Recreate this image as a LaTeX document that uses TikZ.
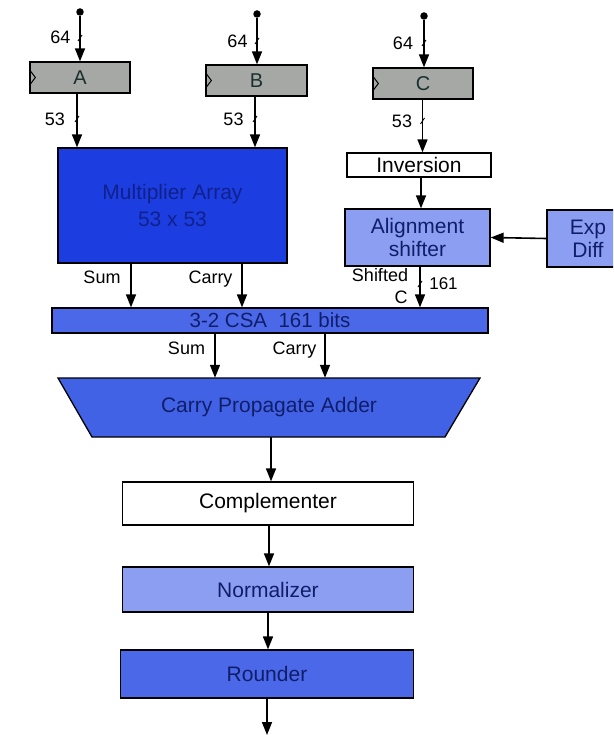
\documentclass[tikz,border=0pt]{standalone}
\usepackage{fontspec}
\setmainfont{Liberation Sans}
\usetikzlibrary{arrows.meta}
\definecolor{reggray}{HTML}{A6A8A6}
\definecolor{regtext}{HTML}{1A3030}
\definecolor{multblue}{HTML}{1C3EE0}
\definecolor{multtext}{HTML}{10208C}
\definecolor{midblue}{HTML}{4A68E8}
\definecolor{cpablue}{HTML}{4262E6}
\definecolor{lightblue}{HTML}{8C9EF2}
\definecolor{navytext}{HTML}{101E6A}
\begin{document}
\begin{tikzpicture}[x=1pt,y=-1pt,
  arr/.style={draw=black, line width=1.6pt, -{Triangle[length=13pt,width=10pt]}},
  box/.style={draw=black, line width=1.3pt, inner sep=0pt, align=center,
              font=\fontsize{21}{23}\selectfont},
  reg/.style={box, fill=reggray, text=regtext, font=\fontsize{20}{22}\selectfont},
  lbl/.style={font=\fontsize{18}{20}\selectfont, inner sep=0pt},
  tick/.style={line width=0.9pt},
  dotn/.style={circle, fill=black, inner sep=0pt, minimum size=7.5pt}]
\useasboundingbox (0,0) rectangle (613,735);
\clip (0,0) rectangle (613,735);

% registers
\node[reg, minimum width=100pt, minimum height=31pt] (A) at (80,77.5) {A};
\node[reg, minimum width=101pt, minimum height=31pt] (B) at (256.5,80.5) {B};
\node[reg, minimum width=100pt, minimum height=31pt] (C) at (423,83.5) {C};
\foreach \r in {A,B,C}{
  \draw[line width=1pt] (\r.west) ++(0,-8) -- ++(6,8) -- ++(-6,8);
}

% input dots
\node[dotn] (dA) at (80,12) {};
\node[dotn] (dB) at (257,14) {};
\node[dotn] (dC) at (424,16) {};

% blocks
\node[box, fill=multblue, text=multtext, minimum width=229pt, minimum height=115pt,
      font=\fontsize{21}{27}\selectfont] (M) at (172.5,205.5) {Multiplier Array\\53 x 53};
\node[box, fill=white, minimum width=144pt, minimum height=24pt] (I) at (419,165) {Inversion};
\node[box, fill=lightblue, text=navytext, minimum width=145pt, minimum height=57pt] (S) at (417.5,237.5) {Alignment\\shifter};
\node[box, fill=lightblue, text=navytext, minimum width=82pt, minimum height=57pt] (E) at (588,238.5) {Exp\\Diff};
\node[box, fill=midblue, text=navytext, minimum width=436pt, minimum height=25pt,
      font=\fontsize{20.5}{22}\selectfont] (K) at (270,320.5) {3-2 CSA\ \ 161 bits};
\fill[cpablue] (58,378) -- (480,378) -- (445,437) -- (92,437) -- cycle;
\draw[line width=1.3pt] (58,378) -- (480,378) -- (445,437) -- (92,437) -- cycle;
\node[inner sep=0pt, minimum height=59pt, minimum width=353pt, text=navytext,
      font=\fontsize{21}{23}\selectfont] (P) at (269,407.5) {Carry Propagate Adder};
\node[box, fill=white, minimum width=291pt, minimum height=43pt] (Cm) at (268,503.5) {Complementer};
\node[box, fill=lightblue, text=navytext, minimum width=291pt, minimum height=45pt] (N) at (268,589.5) {Normalizer};
\node[box, fill=midblue, text=navytext, minimum width=293pt, minimum height=48pt] (R) at (267,674) {Rounder};

% connectors
\draw[arr] (dA) -- (dA |- A.north);
\draw[arr] (dB) -- (dB |- B.north);
\draw[arr] (dC) -- (dC |- C.north);
\path ([xshift=-3pt]A.south) coordinate (a1);
\path ([xshift=-1.5pt]B.south) coordinate (b1);
\path ([xshift=-0.5pt]C.south) coordinate (c1);
\draw[arr] (a1) -- (a1 |- M.north);
\draw[arr] (b1) -- (b1 |- M.north);
\draw[arr] (c1) -- (c1 |- I.north);
\path (421,177) coordinate (i1);
\draw[arr] (i1) -- (i1 |- S.north);
\path (420,266) coordinate (s1);
\draw[arr] (s1) -- (s1 |- K.north);
\draw[arr] (E.west) -- (S.east);
\path (131,263) coordinate (m1);
\path (242,263) coordinate (m2);
\draw[arr] (m1) -- (m1 |- K.north);
\draw[arr] (m2) -- (m2 |- K.north);
\path (215,333) coordinate (k1);
\path (325,333) coordinate (k2);
\draw[arr] (k1) -- (k1 |- P.north);
\draw[arr] (k2) -- (k2 |- P.north);
\path (271,437) coordinate (p1);
\draw[arr] (p1) -- (p1 |- Cm.north);
\path (269,525) coordinate (cm1);
\draw[arr] (cm1) -- (cm1 |- N.north);
\path (268,612) coordinate (n1);
\draw[arr] (n1) -- (n1 |- R.north);
\coordinate (out) at (267,735);
\draw[arr] (R.south) -- (out);

% bus ticks
\draw[tick] (78,41) -- (82,35);
\draw[tick] (75,122) -- (79,116);
\draw[tick] (255,44) -- (259,38);
\draw[tick] (253,122) -- (257,116);
\draw[tick] (422,46) -- (426,40);
\draw[tick] (420.5,124) -- (424.5,118);
\draw[tick] (418,287) -- (422,281);

% labels
\node[lbl] (l64a) at (60.5,37.5) {64};
\node[lbl] (l53a) at (55,119) {53};
\node[lbl] (l64b) at (237.5,41) {64};
\node[lbl] (l53b) at (233.5,119.5) {53};
\node[lbl] (l64c) at (403,43.5) {64};
\node[lbl] (l53c) at (402,121.5) {53};
\node[lbl] (lsum1) at (102,277.5) {Sum};
\node[lbl] (lcar1) at (210.5,279) {Carry};
\node[lbl] (lshf) at (380,275) {Shifted};
\node[lbl] (lc) at (401,297.5) {C};
\node[lbl, font=\fontsize{17}{19}\selectfont] (l161) at (443.5,284) {161};
\node[lbl] (lsum2) at (186.5,348.5) {Sum};
\node[lbl] (lcar2) at (294.5,350) {Carry};
\end{tikzpicture}
\end{document}
